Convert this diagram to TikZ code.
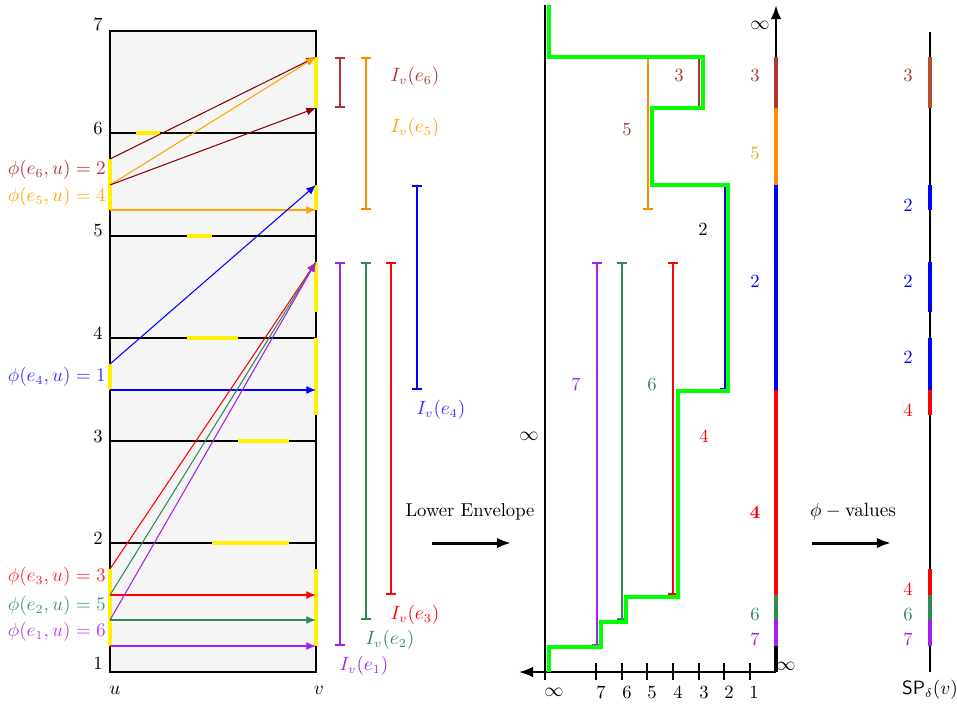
\documentclass[tikz,border=0pt]{standalone}
\usetikzlibrary{arrows.meta}
\definecolor{cSix}{RGB}{139,0,0}
\definecolor{cSixL}{RGB}{170,55,50}
\definecolor{cSixR}{RGB}{180,80,45}
\definecolor{cFive}{RGB}{255,165,0}
\definecolor{cFiveI}{RGB}{255,140,0}
\definecolor{cTwo}{RGB}{46,139,87}
\definecolor{cOne}{RGB}{160,32,240}
\definecolor{bgGray}{RGB}{245,245,245}
\definecolor{envGreen}{RGB}{0,255,0}
\begin{document}
\begin{tikzpicture}[x=0.02cm,y=-0.02cm,
  every node/.append style={font=\fontsize{10.6}{12.7}\selectfont},
  arr/.style={line width=0.6pt,-{Latex[length=5.5pt,width=4.5pt]}},
  gridline/.style={line width=0.8pt},
  hl/.style={yellow,line width=2pt},
  ivl/.style={line width=0.9pt,{Bar[width=6pt]}-{Bar[width=6pt]}},
  seg/.style={line width=2.2pt},
  bigarrow/.style={line width=1.7pt,-{Latex[length=8pt,width=6pt]}},
  lab/.style={inner sep=1pt}]
\useasboundingbox (0,0) rectangle (957,707);

% ---------- left panel ----------
\fill[bgGray] (110,31) rectangle (316,672);
\foreach \y in {133,236,338,441,543} \draw[gridline] (110,\y) -- (316,\y);
\draw[hl] (136,133) -- (160,133);
\draw[hl] (187,236) -- (212,236);
\draw[hl] (187,338) -- (238,338);
\draw[hl] (238,441) -- (289,441);
\draw[hl] (212,543) -- (289,543);
\draw[gridline] (110,31) rectangle (316,672);
\draw[hl] (316,57) -- (316,108);
\draw[hl] (316,185) -- (316,210);
\draw[hl] (316,262) -- (316,312);
\draw[hl] (316,338) -- (316,415);
\draw[hl] (316,569) -- (316,646);
\draw[hl] (110,159) -- (110,210);
\draw[hl] (110,364) -- (110,390);
\draw[hl] (110,569) -- (110,646);

\coordinate (u6a) at (110,159); \coordinate (u6b) at (110,185);
\coordinate (u5) at (110,210);
\coordinate (u4a) at (110,364); \coordinate (u4b) at (110,390);
\coordinate (u3) at (110,569); \coordinate (u2) at (110,595);
\coordinate (u1) at (110,620); \coordinate (u0) at (110,646);
\coordinate (v57) at (316,57); \coordinate (v108) at (316,108);
\coordinate (v185) at (316,185); \coordinate (v210) at (316,210);
\coordinate (v262) at (316,262); \coordinate (v390) at (316,390);
\coordinate (v595) at (316,595); \coordinate (v620) at (316,620);
\coordinate (v646) at (316,646);

\draw[arr,cSix] (u6a) -- (v57);
\draw[arr,cFive] (u6b) -- (v57);
\draw[arr,cSix] (u6b) -- (v108);
\draw[arr,cFive] (u5) -- (v210);
\draw[arr,blue] (u4a) -- (v185);
\draw[arr,blue] (u4b) -- (v390);
\draw[arr,red] (u3) -- (v262);
\draw[arr,red] (u2) -- (v595);
\draw[arr,cTwo] (u2) -- (v262);
\draw[arr,cTwo] (u1) -- (v620);
\draw[arr,cOne] (u1) -- (v262);
\draw[arr,cOne] (u0) -- (v646);

\node[lab] (l7) at (98,24) {7};
\node[lab] (l6) at (98,128) {6};
\node[lab] (l5) at (98,230) {5};
\node[lab] (l4) at (98,333) {4};
\node[lab] (l3) at (98,436) {3};
\node[lab] (l2) at (98,538) {2};
\node[lab] (l1) at (98,663) {1};
\node[lab] (nu) at (115,690) {$u$};
\node[lab] (nv) at (319,690) {$v$};

\node[lab,anchor=east,text=cSixL] (p6) at (108,170) {$\phi(e_6,u)=2$};
\node[lab,anchor=east,text=cFive] (p5) at (108,197) {$\phi(e_5,u)=4$};
\node[lab,anchor=east,text=blue!80] (p4) at (108,377) {$\phi(e_4,u)=1$};
\node[lab,anchor=east,text=red!85] (p3) at (108,577) {$\phi(e_3,u)=3$};
\node[lab,anchor=east,text=cTwo!90] (p2) at (108,606) {$\phi(e_2,u)=5$};
\node[lab,anchor=east,text=cOne!85] (p1) at (108,632) {$\phi(e_1,u)=6$};

% intervals
\draw[ivl,cSixL] (340,57) -- (340,108);
\draw[ivl,cFiveI] (366,57) -- (366,210);
\draw[ivl,blue] (417,185) -- (417,390);
\draw[ivl,cOne] (340,262) -- (340,646);
\draw[ivl,cTwo] (366,262) -- (366,620);
\draw[ivl,red] (391,262) -- (391,595);
\node[lab,text=cSixL] (i6) at (415,77) {$I_v(e_6)$};
\node[lab,text=cFive] (i5) at (415,128) {$I_v(e_5)$};
\node[lab,text=blue!80] (i4) at (441,410) {$I_v(e_4)$};
\node[lab,text=red] (i3) at (415,615) {$I_v(e_3)$};
\node[lab,text=cTwo] (i2) at (390,640) {$I_v(e_2)$};
\node[lab,text=cOne] (i1) at (364,666) {$I_v(e_1)$};

\node[lab] (le) at (470,512) {Lower Envelope};
\coordinate (la) at (432,543); \coordinate (lb) at (511,543);
\draw[bigarrow] (la) -- (lb);

% ---------- middle panel ----------
\coordinate (ml0) at (545,5); \coordinate (ml1) at (545,672);
\draw[line width=0.8pt] (ml0) -- (ml1);
\coordinate (ax0) at (776,672); \coordinate (ax1) at (519,672);
\draw[line width=1pt,-{Latex[length=8pt,width=6pt]}] (ax0) -- (ax1);
\foreach \x in {545,596,622,647,673,699,724,750} \draw[line width=1pt] (\x,663) -- (\x,680);
\foreach \x/\t in {554/$\infty$,601/7,627/6,652/5,678/4,704/3,729/2,754/1}
  \node[lab] at (\x,692) {\t};
\coordinate (ay1) at (776,5);
\draw[line width=1.5pt,-{Latex[length=8pt,width=6pt]}] (ax0) -- (ay1);
\draw[seg,cSixL] (776,57) -- (776,108);
\draw[seg,cFiveI] (776,108) -- (776,185);
\draw[seg,blue] (776,185) -- (776,390);
\draw[seg,red] (776,390) -- (776,595);
\draw[seg,cTwo] (776,595) -- (776,620);
\draw[seg,cOne] (776,620) -- (776,646);
\draw[seg,black] (776,646) -- (776,672);

\node[lab] (inf1) at (760,25) {$\infty$};
\node[lab] (inf2) at (786,666) {$\infty$};
\node[lab] (inf3) at (529,436) {$\infty$};
\node[lab,text=cSixL] at (755,75) {3};
\node[lab,text=cFive] at (755,153) {5};
\node[lab,text=blue] at (755,281) {2};
\node[lab,text=red] at (755,512) {\textbf{4}};
\node[lab,text=cTwo] at (755,614) {6};
\node[lab,text=cOne] at (755,639) {7};

\draw[ivl,cFiveI] (648,57) -- (648,210);
\draw[ivl,cSixL] (699,57) -- (699,108);
\draw[ivl,blue] (725,185) -- (725,390);
\draw[ivl,cOne] (597,262) -- (597,646);
\draw[ivl,cTwo] (622,262) -- (622,620);
\draw[ivl,red] (673,262) -- (673,595);

\draw[envGreen,line width=2.4pt,line join=miter]
  (549,5) -- (549,57) -- (703,57) -- (703,108) -- (652,108) -- (652,185)
  -- (728,185) -- (728,391) -- (678,391) -- (678,597) -- (626,597)
  -- (626,622) -- (601,622) -- (601,647) -- (549,647) -- (549,672);

\node[lab,text=cSixL] at (679,75) {3};
\node[lab,text=cSixL] at (627,129) {5};
\node[lab] at (703,229) {2};
\node[lab,text=cOne] at (576,384) {7};
\node[lab,text=cTwo] at (652,384) {6};
\node[lab,text=red] at (704,436) {4};

\node[lab] (pv) at (853,512) {$\phi-\mathrm{values}$};
\coordinate (pa) at (812,543); \coordinate (pb) at (891,543);
\draw[bigarrow] (pa) -- (pb);

% ---------- right panel ----------
\coordinate (r0) at (930,32); \coordinate (r1) at (930,672);
\draw[line width=1pt] (r0) -- (r1);
\draw[seg,cSixR] (930,57) -- (930,108);
\draw[seg,blue] (930,185) -- (930,210);
\draw[seg,blue] (930,262) -- (930,312);
\draw[seg,blue] (930,338) -- (930,390);
\draw[seg,red] (930,390) -- (930,415);
\draw[seg,red] (930,569) -- (930,595);
\draw[seg,cTwo] (930,595) -- (930,620);
\draw[seg,cOne] (930,620) -- (930,646);
\node[lab,text=cSixL] at (908,75) {3};
\node[lab,text=blue] at (908,205) {2};
\node[lab,text=blue] at (908,281) {2};
\node[lab,text=blue] at (908,357) {2};
\node[lab,text=red] at (908,410) {4};
\node[lab,text=red] at (908,589) {4};
\node[lab,text=cTwo] at (908,614) {6};
\node[lab,text=cOne] at (908,639) {7};
\node[lab] (sp) at (930,690) {$\mathsf{SP}_\delta(v)$};
\end{tikzpicture}
\end{document}
